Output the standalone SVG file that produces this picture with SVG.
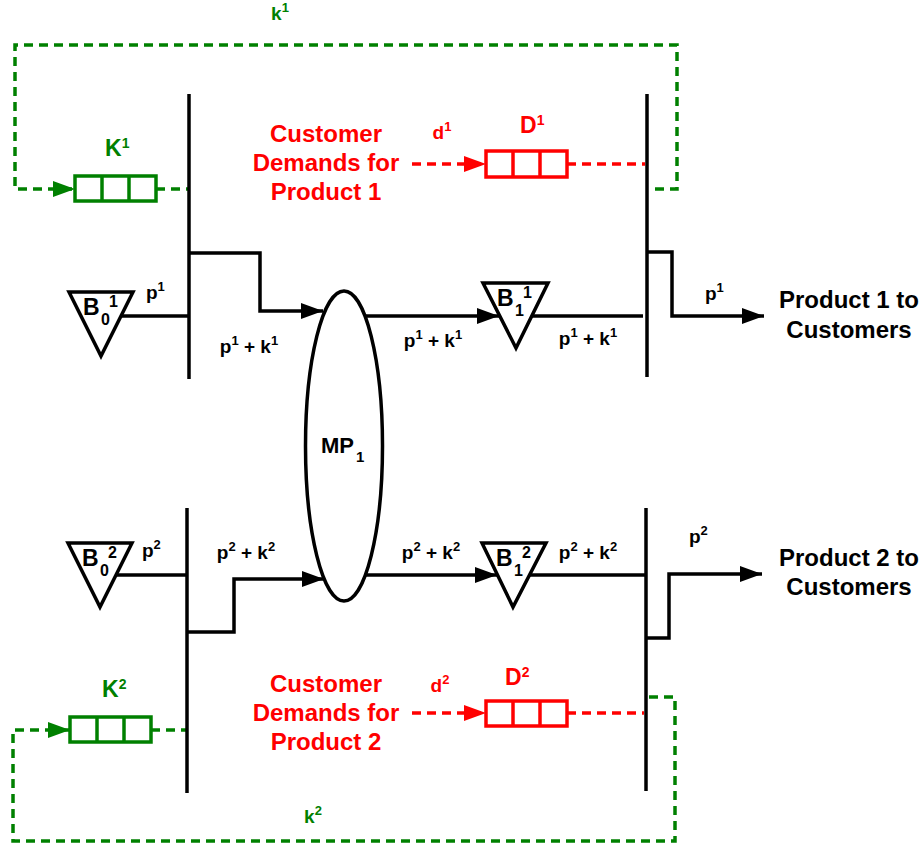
<svg xmlns="http://www.w3.org/2000/svg" width="923" height="847" viewBox="0 0 923 847">
<style>
text{font-family:"Liberation Sans",Arial,sans-serif;font-weight:bold}
.lbl{font-size:19px;fill:#000}
.sup{font-size:13px}
.big{font-size:24px;fill:#000}
.red{fill:#ff0000}
.grn{fill:#008000}
.bl{stroke:#000;stroke-width:3.5;fill:none}
.gd{stroke:#008000;stroke-width:3.5;fill:none;stroke-dasharray:9 6}
.rd{stroke:#ff0000;stroke-width:3.5;fill:none;stroke-dasharray:9 6}
.gbox{stroke:#008000;stroke-width:3.5;fill:#fff}
.rbox{stroke:#ff0000;stroke-width:3.5;fill:#fff}
.tri{stroke:#000;stroke-width:3.5;fill:#fff;stroke-linejoin:miter}
.gdiv{stroke:#008000;stroke-width:3.5}
.rdiv{stroke:#ff0000;stroke-width:3.5}
</style>
<defs>
<marker id="ab" markerWidth="22" markerHeight="16" refX="22" refY="8" orient="auto" markerUnits="userSpaceOnUse"><path d="M0,0 L22,8 L0,16 Z" fill="#000"/></marker>
<marker id="ar" markerWidth="22" markerHeight="16" refX="22" refY="8" orient="auto" markerUnits="userSpaceOnUse"><path d="M0,0 L22,8 L0,16 Z" fill="#ff0000"/></marker>
<marker id="ag" markerWidth="22" markerHeight="16" refX="22" refY="8" orient="auto" markerUnits="userSpaceOnUse"><path d="M0,0 L22,8 L0,16 Z" fill="#008000"/></marker>
</defs>

<g id="connectors">
<!-- product 1 -->
<path class="gd" d="M655,189 H677 V45 H15 V189 H75" marker-end="url(#ag)"/>
<path class="gd" d="M156,189 H189"/>
<path class="rd" d="M412,164 H486" marker-end="url(#ar)"/>
<path class="rd" d="M567,164 H645"/>
<path class="bl" d="M121,316 H189"/>
<path class="bl" d="M189,253 H260 V311 H323" marker-end="url(#ab)"/>
<path class="bl" d="M365,316 H499" marker-end="url(#ab)"/>
<path class="bl" d="M532,316 H643"/>
<path class="bl" d="M647,252 H672 V316 H764" marker-end="url(#ab)"/>
<!-- product 2 -->
<path class="gd" d="M649,697 H675 V841 H13 V730 H70" marker-end="url(#ag)"/>
<path class="gd" d="M151,730 H187"/>
<path class="rd" d="M412,713 H486" marker-end="url(#ar)"/>
<path class="rd" d="M567,713 H644"/>
<path class="bl" d="M116,575 H187"/>
<path class="bl" d="M187,632 H234 V579 H324" marker-end="url(#ab)"/>
<path class="bl" d="M365,575 H497" marker-end="url(#ab)"/>
<path class="bl" d="M530,575 H646"/>
<path class="bl" d="M646,638 H669 V574 H762" marker-end="url(#ab)"/>
</g>

<g id="labels">
<text class="lbl grn" x="280" y="20" text-anchor="middle">k<tspan class="sup" dy="-8">1</tspan></text>
<text class="lbl red" x="442" y="139" text-anchor="middle">d<tspan class="sup" dy="-8">1</tspan></text>
<text class="lbl" x="146" y="299">p<tspan class="sup" dy="-8">1</tspan></text>
<text class="lbl" x="249" y="353" text-anchor="middle">p<tspan class="sup" dy="-8">1</tspan><tspan dy="8"> + k</tspan><tspan class="sup" dy="-8">1</tspan></text>
<text class="lbl" x="433" y="347" text-anchor="middle">p<tspan class="sup" dy="-8">1</tspan><tspan dy="8"> + k</tspan><tspan class="sup" dy="-8">1</tspan></text>
<text class="lbl" x="588" y="345" text-anchor="middle">p<tspan class="sup" dy="-8">1</tspan><tspan dy="8"> + k</tspan><tspan class="sup" dy="-8">1</tspan></text>
<text class="lbl" x="705" y="300">p<tspan class="sup" dy="-8">1</tspan></text>

<text class="lbl grn" x="313" y="823" text-anchor="middle">k<tspan class="sup" dy="-8">2</tspan></text>
<text class="lbl red" x="440" y="692" text-anchor="middle">d<tspan class="sup" dy="-8">2</tspan></text>
<text class="lbl" x="142" y="557">p<tspan class="sup" dy="-8">2</tspan></text>
<text class="lbl" x="246" y="559" text-anchor="middle">p<tspan class="sup" dy="-8">2</tspan><tspan dy="8"> + k</tspan><tspan class="sup" dy="-8">2</tspan></text>
<text class="lbl" x="431" y="559" text-anchor="middle">p<tspan class="sup" dy="-8">2</tspan><tspan dy="8"> + k</tspan><tspan class="sup" dy="-8">2</tspan></text>
<text class="lbl" x="588" y="559" text-anchor="middle">p<tspan class="sup" dy="-8">2</tspan><tspan dy="8"> + k</tspan><tspan class="sup" dy="-8">2</tspan></text>
<text class="lbl" x="689" y="543">p<tspan class="sup" dy="-8">2</tspan></text>
</g>

<g id="bar-in-1"><line class="bl" x1="189" y1="94" x2="189" y2="379"/></g>
<g id="bar-out-1"><line class="bl" x1="647" y1="94" x2="647" y2="377"/></g>
<g id="bar-in-2"><line class="bl" x1="187" y1="508" x2="187" y2="793"/></g>
<g id="bar-out-2"><line class="bl" x1="646" y1="508" x2="646" y2="791"/></g>

<g id="K1">
<rect class="gbox" x="75" y="176" width="81" height="25"/>
<line class="gdiv" x1="102" y1="176" x2="102" y2="201"/>
<line class="gdiv" x1="129" y1="176" x2="129" y2="201"/>
<text class="grn" x="105" y="156" font-size="23">K<tspan dy="-8" font-size="14">1</tspan></text>
</g>
<g id="D1">
<rect class="rbox" x="486" y="151" width="81" height="26"/>
<line class="rdiv" x1="513" y1="151" x2="513" y2="177"/>
<line class="rdiv" x1="540" y1="151" x2="540" y2="177"/>
<text class="red" x="520" y="133" font-size="23">D<tspan dy="-8" font-size="14">1</tspan></text>
</g>
<g id="demand1">
<text class="red" x="326" y="142" text-anchor="middle" font-size="24">Customer</text>
<text class="red" x="326" y="171" text-anchor="middle" font-size="24">Demands for</text>
<text class="red" x="326" y="200" text-anchor="middle" font-size="24">Product 1</text>
</g>
<g id="B0-1">
<polygon class="tri" points="69,292 133,292 101,356"/>
<text x="83" y="315" font-size="23">B</text><text x="101" y="325" font-size="16">0</text><text x="109" y="307" font-size="16">1</text>
</g>
<g id="B1-1">
<polygon class="tri" points="483,283 548,283 516,348"/>
<text x="497" y="306" font-size="23">B</text><text x="515" y="316" font-size="16">1</text><text x="523" y="298" font-size="16">1</text>
</g>
<g id="MP1">
<ellipse cx="344" cy="446" rx="38.5" ry="155" fill="#fff" stroke="#000" stroke-width="3.5"/>
<text x="321" y="453" font-size="22">MP</text><text x="356" y="462" font-size="15">1</text>
</g>
<g id="out-1">
<text class="big" x="849" y="308" text-anchor="middle">Product 1 to</text>
<text class="big" x="849" y="338" text-anchor="middle">Customers</text>
</g>

<g id="K2">
<rect class="gbox" x="70" y="717" width="81" height="25"/>
<line class="gdiv" x1="97" y1="717" x2="97" y2="742"/>
<line class="gdiv" x1="124" y1="717" x2="124" y2="742"/>
<text class="grn" x="102" y="697" font-size="23">K<tspan dy="-8" font-size="14">2</tspan></text>
</g>
<g id="D2">
<rect class="rbox" x="486" y="701" width="81" height="25"/>
<line class="rdiv" x1="513" y1="701" x2="513" y2="726"/>
<line class="rdiv" x1="540" y1="701" x2="540" y2="726"/>
<text class="red" x="505" y="685" font-size="23">D<tspan dy="-8" font-size="14">2</tspan></text>
</g>
<g id="demand2">
<text class="red" x="326" y="692" text-anchor="middle" font-size="24">Customer</text>
<text class="red" x="326" y="721" text-anchor="middle" font-size="24">Demands for</text>
<text class="red" x="326" y="750" text-anchor="middle" font-size="24">Product 2</text>
</g>
<g id="B0-2">
<polygon class="tri" points="68,543 132,543 100,607"/>
<text x="82" y="566" font-size="23">B</text><text x="100" y="576" font-size="16">0</text><text x="108" y="558" font-size="16">2</text>
</g>
<g id="B1-2">
<polygon class="tri" points="482,543 546,543 513,607"/>
<text x="496" y="566" font-size="23">B</text><text x="514" y="576" font-size="16">1</text><text x="522" y="558" font-size="16">2</text>
</g>
<g id="out-2">
<text class="big" x="849" y="566" text-anchor="middle">Product 2 to</text>
<text class="big" x="849" y="595" text-anchor="middle">Customers</text>
</g>
</svg>
